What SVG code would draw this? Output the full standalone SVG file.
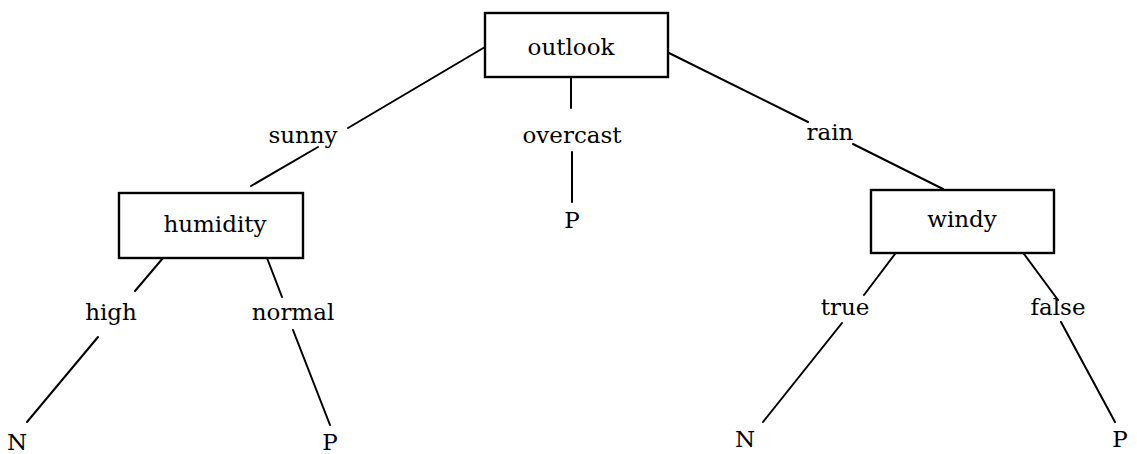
<svg xmlns="http://www.w3.org/2000/svg" width="1137" height="454" viewBox="0 0 1137 454">
  <style>
    .box { fill: #fff; stroke: #000; stroke-width: 2.4; }
    .edge { stroke: #000; stroke-width: 2; fill: none; stroke-linecap: round; }
    text { font-family: "DejaVu Serif", "Liberation Serif", serif; font-size: 23px; fill: #000; text-anchor: middle; }
  </style>
  <rect width="1137" height="454" fill="#fff"/>

  <!-- branches -->
  <g id="connectors">
    <line class="edge" x1="485" y1="47" x2="348" y2="128"/>
    <line class="edge" x1="318" y1="147" x2="251" y2="186"/>
    <line class="edge" x1="571" y1="78" x2="571" y2="108"/>
    <line class="edge" x1="572" y1="152" x2="572" y2="202"/>
    <line class="edge" x1="669" y1="53" x2="808" y2="122"/>
    <line class="edge" x1="853" y1="144" x2="943" y2="189"/>
    <line class="edge" x1="163" y1="258" x2="135" y2="291"/>
    <line class="edge" x1="98" y1="337" x2="27" y2="422"/>
    <line class="edge" x1="267" y1="258" x2="282" y2="297"/>
    <line class="edge" x1="293" y1="330" x2="330" y2="425"/>
    <line class="edge" x1="895" y1="254" x2="864" y2="295"/>
    <line class="edge" x1="842" y1="323" x2="763" y2="422"/>
    <line class="edge" x1="1024" y1="254" x2="1058" y2="300"/>
    <line class="edge" x1="1061" y1="322" x2="1115" y2="422"/>
  </g>

  <!-- branch labels -->
  <g id="labels">
    <text x="303" y="143">sunny</text>
    <text x="572" y="143">overcast</text>
    <text x="830" y="140">rain</text>
    <text x="111" y="320">high</text>
    <text x="293" y="320">normal</text>
    <text x="845" y="315">true</text>
    <text x="1058" y="315">false</text>
  </g>

  <g id="outlook">
    <rect class="box" x="485" y="13" width="183" height="64"/>
    <text x="571" y="55">outlook</text>
  </g>
  <g id="humidity">
    <rect class="box" x="119" y="193" width="184" height="65"/>
    <text x="215" y="232">humidity</text>
  </g>
  <g id="windy">
    <rect class="box" x="871" y="190" width="183" height="63"/>
    <text x="962" y="227">windy</text>
  </g>

  <g id="leaf-overcast"><text x="572" y="228">P</text></g>
  <g id="leaf-high"><text x="17" y="450">N</text></g>
  <g id="leaf-normal"><text x="330" y="450">P</text></g>
  <g id="leaf-true"><text x="745" y="447">N</text></g>
  <g id="leaf-false"><text x="1120" y="447">P</text></g>
</svg>
